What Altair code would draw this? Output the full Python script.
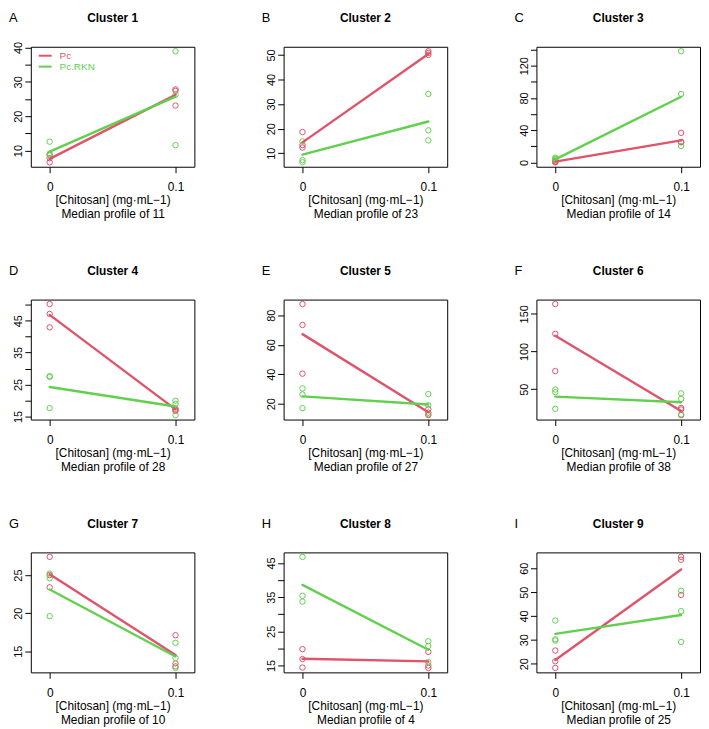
import altair as alt
import pandas as pd

RED = "#DF536B"
GREEN = "#61D04F"
FONT = "Liberation Sans"

series_names = ["Pc", "Pc.RKN"]
series_colors = [RED, GREEN]

letters = ["A", "B", "C", "D", "E", "F", "G", "H", "I"]
cluster_ids = [1, 2, 3, 4, 5, 6, 7, 8, 9]
profile_counts = [11, 23, 14, 28, 27, 38, 10, 4, 25]
doses = [0.0, 0.1]

# replicate values (3 per condition)
pc_dose0 = [
    [8.8, 7.8, 6.6], [18.6, 13.3, 12.3], [2.0, 0.8, 0.3],
    [50.2, 47.1, 42.9], [87.6, 73.4, 40.4], [163.0, 123.5, 74.0],
    [27.4, 25.0, 23.4], [19.8, 16.9, 14.4], [25.5, 21.0, 18.2],
]
pc_dose01 = [
    [27.8, 27.4, 23.1], [51.5, 50.8, 50.0], [36.8, 25.6, 25.0],
    [17.4, 17.0, 16.7], [16.3, 14.0, 12.3], [25.0, 23.0, 15.5],
    [17.1, 13.4, 13.0], [19.0, 15.0, 14.3], [64.8, 63.6, 48.8],
]
rkn_dose0 = [
    [12.6, 9.1, 8.6], [14.8, 7.2, 6.3], [6.0, 4.5, 3.5],
    [27.6, 27.4, 17.6], [30.4, 26.3, 17.0], [49.5, 46.0, 23.9],
    [25.2, 24.6, 19.6], [46.8, 35.4, 33.7], [38.1, 30.2, 29.7],
]
rkn_dose01 = [
    [38.9, 26.3, 11.6], [34.1, 19.3, 15.2], [138.0, 85.0, 20.5],
    [19.9, 18.9, 15.4], [26.6, 19.0, 13.0], [44.3, 37.0, 16.5],
    [16.1, 14.1, 12.8], [22.1, 20.7, 16.0], [50.6, 42.0, 29.1],
]
# median profile lines (dose 0, dose 0.1)
pc_median = [
    [7.6, 26.2], [14.4, 50.4], [1.2, 27.5],
    [46.8, 17.2], [67.2, 14.3], [121.0, 21.0],
    [25.1, 14.5], [17.0, 16.2], [21.5, 59.5],
]
rkn_median = [
    [9.7, 25.7], [9.4, 22.9], [4.0, 81.5],
    [24.2, 18.1], [25.0, 19.5], [40.0, 32.5],
    [23.1, 14.3], [38.6, 19.6], [32.5, 40.4],
]
y_ticks = [
    [10, 15, 20, 25, 30, 35, 40], [10, 20, 30, 40, 50], [0, 20, 40, 60, 80, 100, 120, 140],
    [15, 20, 25, 30, 35, 40, 45, 50], [20, 40, 60, 80], [50, 100, 150],
    [15, 20, 25], [15, 20, 25, 30, 35, 40, 45], [20, 30, 40, 50, 60],
]
y_labelled = [
    [10, 20, 30, 40], [10, 20, 30, 40, 50], [0, 40, 80, 120],
    [15, 25, 35, 45], [20, 40, 60, 80], [50, 100, 150],
    [15, 20, 25], [15, 25, 35, 45], [20, 30, 40, 50, 60],
]
x_ticks = [0, 0.1]

W, H = 165, 121

color = alt.Color(
    "series:N",
    scale=alt.Scale(domain=series_names, range=series_colors),
    legend=None,
)


def panel(i):
    rows = []
    for name, d0, d1 in (("Pc", pc_dose0[i], pc_dose01[i]),
                         ("Pc.RKN", rkn_dose0[i], rkn_dose01[i])):
        for v in d0:
            rows.append({"series": name, "dose": doses[0], "value": v})
        for v in d1:
            rows.append({"series": name, "dose": doses[1], "value": v})
    pts = pd.DataFrame(rows)
    lrows = []
    for name, med in (("Pc", pc_median[i]), ("Pc.RKN", rkn_median[i])):
        for d, v in zip(doses, med):
            lrows.append({"series": name, "dose": d, "value": v})
    lines = pd.DataFrame(lrows)

    allv = list(pts["value"]) + list(lines["value"])
    lo, hi = min(allv), max(allv)
    pad = 0.04 * (hi - lo)

    x = alt.X(
        "dose:Q",
        scale=alt.Scale(domain=[-0.015, 0.115], nice=False, zero=False),
        axis=alt.Axis(
            values=x_ticks, format="~g",
            title=["[Chitosan] (mg·mL−1)", f"Median profile of {profile_counts[i]}"],
        ),
    )
    y = alt.Y(
        "value:Q",
        scale=alt.Scale(domain=[lo - pad, hi + pad], nice=False, zero=False),
        axis=alt.Axis(
            values=y_ticks[i], title=None,
            labelExpr=f"indexof({y_labelled[i]}, datum.value) >= 0 ? datum.label : ''",
        ),
    )

    point_layer = alt.Chart(pts).mark_point(
        shape="circle", filled=False, size=30, strokeWidth=1, opacity=1
    ).encode(x=x, y=y, color=color)
    line_layer = alt.Chart(lines).mark_line(
        strokeWidth=2.4, strokeCap="round"
    ).encode(x=x, y=y, color=color)

    title_layer = alt.Chart(pd.DataFrame({"t": [f"Cluster {cluster_ids[i]}"]})).mark_text(
        font=FONT, fontSize=12, fontWeight="bold", align="center",
        baseline="alphabetic", color="black",
    ).encode(x=alt.value(W / 2), y=alt.value(-25), text="t:N")
    letter_layer = alt.Chart(pd.DataFrame({"t": [letters[i]]})).mark_text(
        font=FONT, fontSize=13, align="left", baseline="alphabetic", color="black",
    ).encode(x=alt.value(-22), y=alt.value(-25), text="t:N")

    layers = [point_layer, line_layer, title_layer, letter_layer]
    if i == 0:
        for k, (nm, col) in enumerate(zip(series_names, series_colors)):
            ldf = pd.DataFrame({"series": [nm]})
            layers.append(
                alt.Chart(ldf).mark_rule(color=col, strokeWidth=2).encode(
                    x=alt.value(8), x2=alt.value(21), y=alt.value(9 + 11 * k)
                )
            )
            layers.append(
                alt.Chart(ldf).mark_text(
                    font=FONT, fontSize=10, align="left", baseline="middle", color=col
                ).encode(x=alt.value(29), y=alt.value(9 + 11 * k), text="series:N")
            )
    return alt.layer(*layers).properties(width=W, height=H)


chart = alt.concat(
    *[panel(i) for i in range(9)], columns=3, spacing={"row": 44, "column": 66}
).properties(padding=0).configure_view(
    stroke="black", strokeWidth=1
).configure_axis(
    labelFont=FONT, titleFont=FONT, labelColor="black", titleColor="black",
    tickColor="black", domain=False, grid=False, tickSize=6, tickWidth=1,
    titleFontWeight="normal", labelOverlap=False, labelFlush=False,
).configure_axisX(
    labelFontSize=12, labelPadding=9, titleFontSize=12, titlePadding=2,
    titleLineHeight=14.5,
).configure_axisY(
    labelFontSize=11, labelAngle=270, labelAlign="center",
    labelBaseline="alphabetic", labelPadding=3,
)

chart.save("out.html", embed_options={"renderer": "svg", "actions": False})
